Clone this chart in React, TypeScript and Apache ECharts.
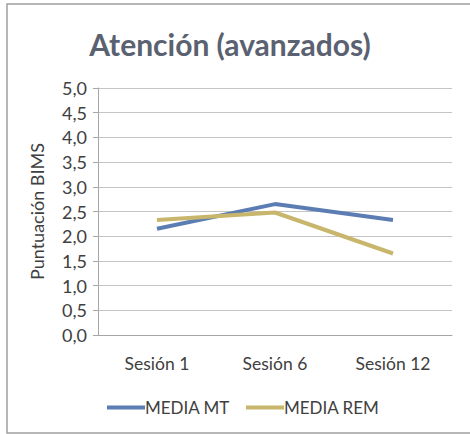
import React, { useEffect, useRef } from "react";
import * as echarts from "echarts";

const categories = ["Sesión 1", "Sesión 6", "Sesión 12"];
const mediaMT = [2.15, 2.65, 2.33];
const mediaREM = [2.33, 2.48, 1.65];
const titleText = "Atención (avanzados)";
const yAxisName = "Puntuación BIMS";

const FONT = "Lato";

export default function App() {
  const ref = useRef<HTMLDivElement>(null);
  useEffect(() => {
    if (!ref.current) return;
    const chart = echarts.init(ref.current, undefined, { renderer: "svg" });
    chart.setOption({
      animation: false,
      backgroundColor: "#ffffff",
      graphic: [
        {
          type: "rect",
          shape: { x: 7, y: 4, width: 480, height: 429 },
          style: { fill: "none", stroke: "#a0a0a0", lineWidth: 1.5 },
          silent: true,
        },
        {
          type: "text",
          x: 230,
          y: 44,
          style: {
            text: titleText,
            fontFamily: FONT,
            fontSize: 30,
            fontWeight: "bold",
            fill: "#5a6170",
            textAlign: "center",
            textVerticalAlign: "middle",
          },
        },
      ],
      grid: { left: 98, right: 18, top: 88, bottom: 99 },
      legend: {
        left: 102,
        top: 394,
        icon: "rect",
        itemWidth: 38,
        itemHeight: 4,
        itemGap: 16,
        textStyle: { fontFamily: FONT, fontSize: 17, color: "#404040", padding: [0, 0, 0, -5] },
        data: ["MEDIA MT", "MEDIA REM"],
      },
      xAxis: {
        type: "category",
        data: categories,
        boundaryGap: true,
        axisLine: { lineStyle: { color: "#a6a6a6", width: 1 } },
        axisTick: { show: false },
        axisLabel: { fontFamily: FONT, fontSize: 17.5, color: "#404040", margin: 19 },
      },
      yAxis: {
        type: "value",
        min: 0,
        max: 5,
        interval: 0.5,
        name: yAxisName,
        nameLocation: "middle",
        nameGap: 52,
        nameRotate: 90,
        nameTextStyle: { fontFamily: FONT, fontSize: 18, color: "#404040" },
        axisLine: { show: true, lineStyle: { color: "#a6a6a6", width: 1 } },
        axisTick: { show: true, length: 5, lineStyle: { color: "#a6a6a6" } },
        splitLine: { lineStyle: { color: "#c4c4c4", width: 1.2 } },
        axisLabel: {
          fontFamily: FONT,
          fontSize: 18,
          color: "#404040",
          margin: 11,
          formatter: (v: number) => v.toFixed(1).replace(".", ","),
        },
      },
      series: [
        {
          name: "MEDIA MT",
          type: "line",
          data: mediaMT,
          symbol: "none",
          lineStyle: { color: "#5b7db3", width: 4 },
          itemStyle: { color: "#5b7db3" },
        },
        {
          name: "MEDIA REM",
          type: "line",
          data: mediaREM,
          symbol: "none",
          lineStyle: { color: "#c8b66c", width: 4 },
          itemStyle: { color: "#c8b66c" },
        },
      ],
    });
    return () => chart.dispose();
  }, []);
  return (
    <div
      ref={ref}
      style={{ position: "absolute", left: 0, top: 0, width: 470, height: 434 }}
    />
  );
}
